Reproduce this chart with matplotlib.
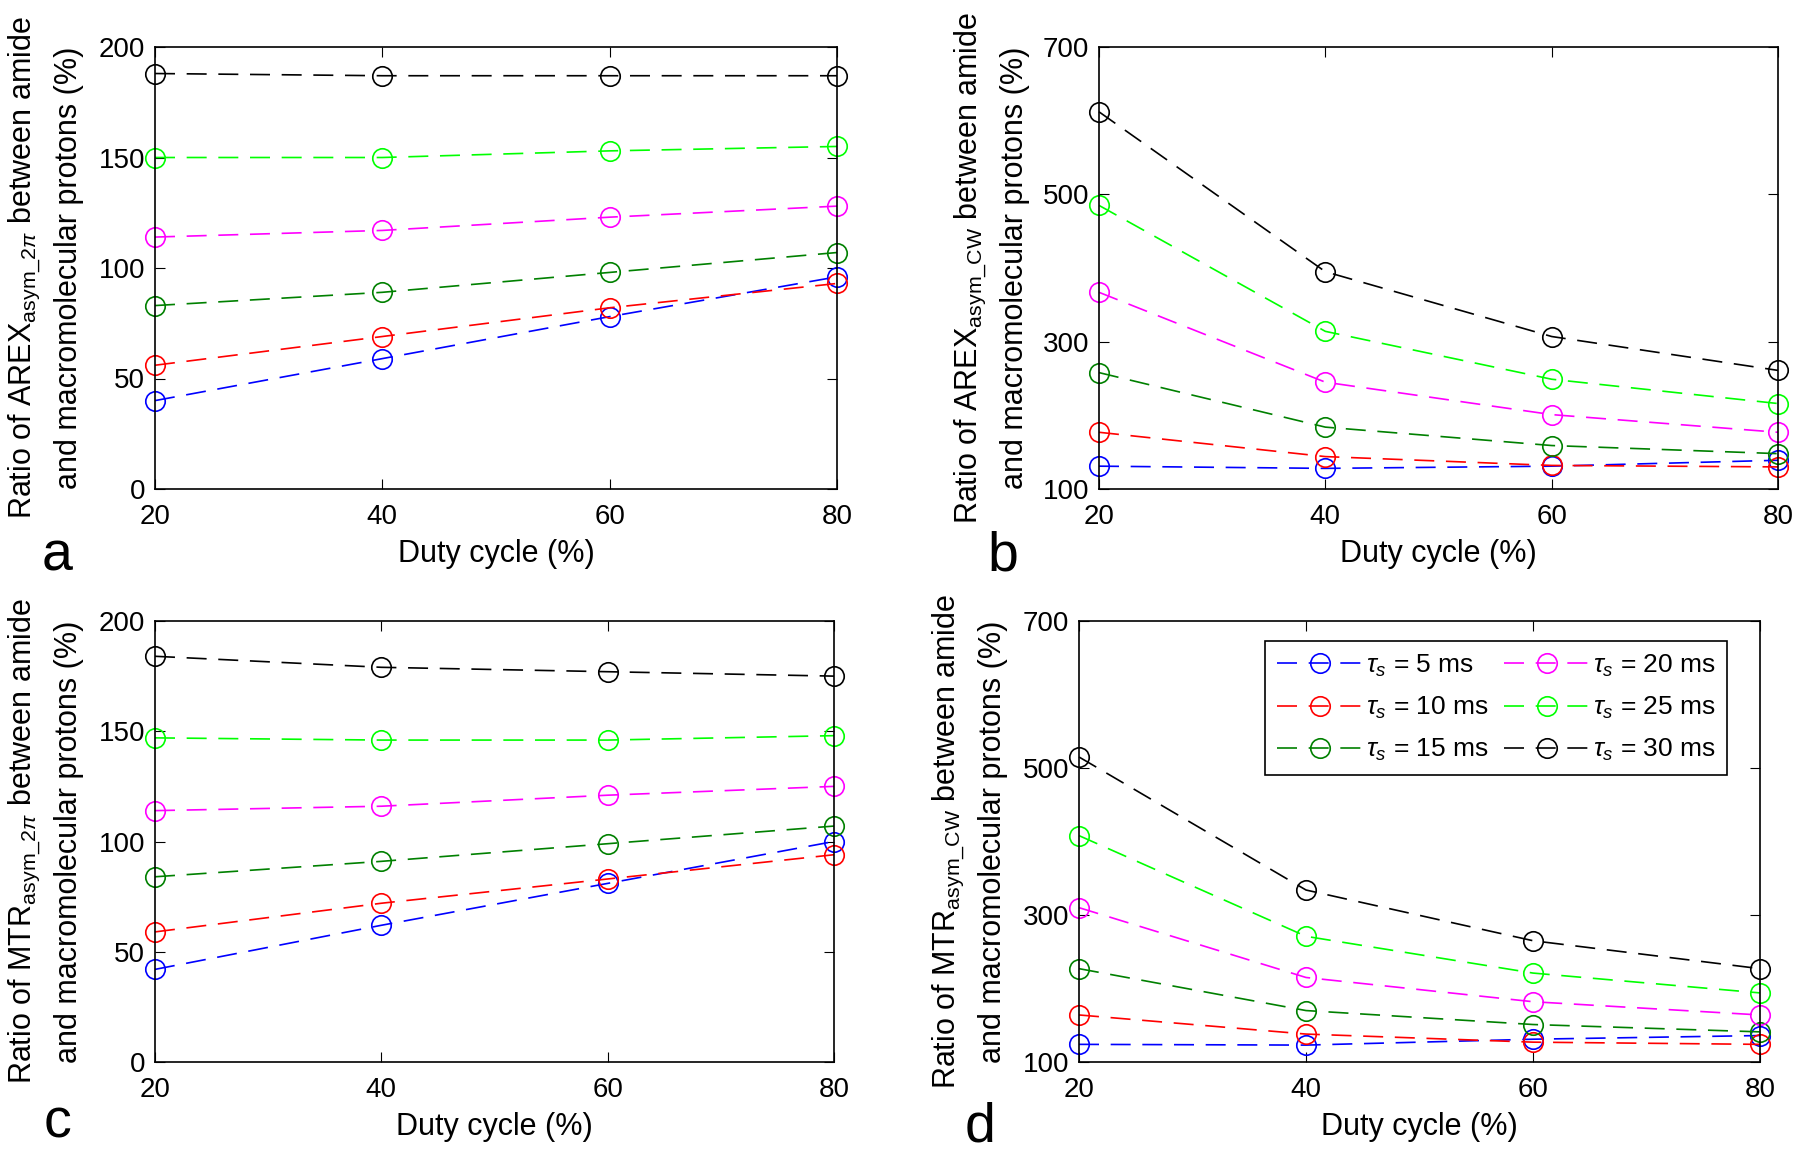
import numpy as np
import matplotlib
matplotlib.use("Agg")
import matplotlib.pyplot as plt

plt.rcParams["font.family"] = ["Liberation Sans", "DejaVu Sans"]
plt.rcParams["mathtext.fontset"] = "custom"
plt.rcParams["mathtext.rm"] = "Liberation Sans"
plt.rcParams["mathtext.it"] = "Liberation Sans:italic"

duty = [20, 40, 60, 80]
tau_labels = [r"$\tau_s$ = 5 ms", r"$\tau_s$ = 10 ms", r"$\tau_s$ = 15 ms",
              r"$\tau_s$ = 20 ms", r"$\tau_s$ = 25 ms", r"$\tau_s$ = 30 ms"]
colors = ["#0000ff", "#ff0000", "#008000", "#ff00ff", "#00ff00", "#000000"]

# a: AREX asym_2pi
arex_2pi = [
    [40, 59, 78, 96],
    [56, 69, 82, 93],
    [83, 89, 98, 107],
    [114, 117, 123, 128],
    [150, 150, 153, 155],
    [188, 187, 187, 187],
]
# b: AREX asym_CW
arex_cw = [
    [131, 128, 131, 139],
    [177, 144, 132, 130],
    [258, 184, 159, 148],
    [367, 245, 201, 177],
    [485, 314, 249, 216],
    [612, 395, 307, 261],
]
# c: MTR asym_2pi
mtr_2pi = [
    [42, 62, 81, 100],
    [59, 72, 83, 94],
    [84, 91, 99, 107],
    [114, 116, 121, 125],
    [147, 146, 146, 148],
    [184, 179, 177, 175],
]
# d: MTR asym_CW
mtr_cw = [
    [124, 123, 131, 136],
    [164, 138, 127, 124],
    [227, 170, 151, 141],
    [310, 215, 182, 164],
    [408, 271, 221, 194],
    [515, 334, 265, 227],
]

panels = [
    (arex_2pi, [155, 47, 837, 489], [0, 200], [0, 50, 100, 150, 200],
     "Ratio of AREX$_{\\mathrm{asym\\_2}\\pi}$ between amide\nand macromolecular protons (%)", "a", (57, 571), 84),
    (arex_cw, [1099, 47, 1778, 489], [100, 700], [100, 300, 500, 700],
     "Ratio of AREX$_{\\mathrm{asym\\_CW}}$ between amide\nand macromolecular protons (%)", "b", (1003, 571), 1030),
    (mtr_2pi, [155, 621, 834, 1062], [0, 200], [0, 50, 100, 150, 200],
     "Ratio of MTR$_{\\mathrm{asym\\_2}\\pi}$ between amide\nand macromolecular protons (%)", "c", (57, 1137), 84),
    (mtr_cw, [1079, 621, 1760, 1062], [100, 700], [100, 300, 500, 700],
     "Ratio of MTR$_{\\mathrm{asym\\_CW}}$ between amide\nand macromolecular protons (%)", "d", (980, 1142), 1008),
]

W, H = 1800, 1153
fig = plt.figure(figsize=(W / 100, H / 100), dpi=100)

for data, box, ylim, yticks, ylabel, letter, lpos, ylab_x in panels:
    x0, y0, x1, y1 = box
    ax = fig.add_axes([x0 / W, 1 - y1 / H, (x1 - x0) / W, (y1 - y0) / H])
    for vals, c, lab in zip(data, colors, tau_labels):
        ax.plot(duty, vals, color=c, ls=(0, (12, 7)), lw=1.2, marker="o",
                ms=14, mfc="none", mec=c, mew=1.2, clip_on=False, label=lab)
    ax.set_xlim(20, 80)
    ax.set_ylim(*ylim)
    ax.set_xticks(duty)
    ax.set_yticks(yticks)
    ax.tick_params(direction="in", top=True, right=True, length=7,
                   labelsize=20, pad=7)
    ax.tick_params(axis="x", pad=11)
    for s in ax.spines.values():
        s.set_linewidth(1.2)
    ax.set_xlabel("Duty cycle (%)", fontsize=22, labelpad=6)
    ax.set_ylabel(ylabel, fontsize=22, multialignment="center", linespacing=1.5)
    ax.yaxis.set_label_coords((ylab_x - x0) / (x1 - x0), 0.5)
    fig.text(lpos[0] / W, 1 - lpos[1] / H, letter, fontsize=40, ha="center", va="baseline")
    if letter == "d":
        leg = ax.legend(ncol=2, loc="upper right", bbox_to_anchor=(0.952, 0.955),
                        fontsize=19, frameon=True, fancybox=False, framealpha=1,
                        edgecolor="black", handlelength=3.2, columnspacing=0.6,
                        handletextpad=0.15, borderpad=0.45, labelspacing=0.6,
                        borderaxespad=0)
        leg.get_frame().set_linewidth(1.2)

fig.savefig("out.png", dpi=100)
